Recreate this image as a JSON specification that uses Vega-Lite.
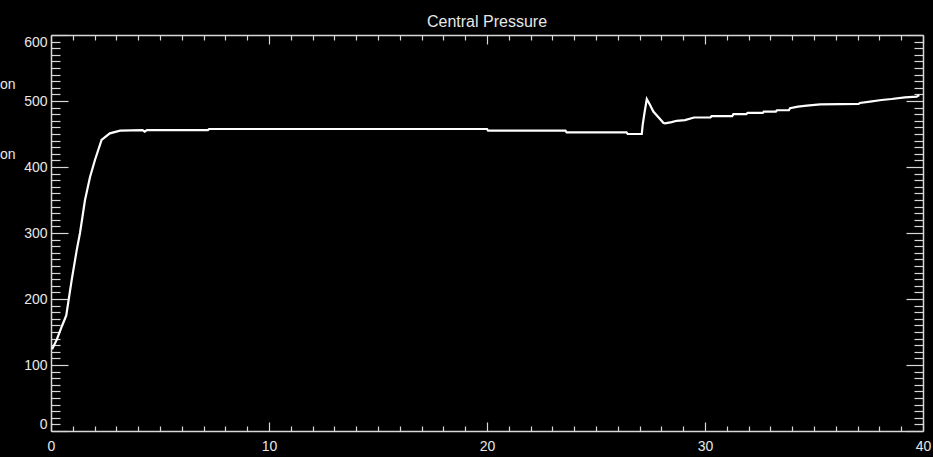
{
  "$schema": "https://vega.github.io/schema/vega-lite/v6.json",
  "width": 872,
  "height": 396,
  "autosize": {"type": "none"},
  "padding": {"left": 51, "top": 35, "right": 10, "bottom": 26},
  "background": "black",
  "config": {
    "view": {"stroke": null},
    "axis": {
      "grid": false,
      "title": null,
      "domainColor": "#d8d8d8",
      "domainWidth": 1.5,
      "tickColor": "#d8d8d8",
      "tickWidth": 1.2,
      "labelColor": "#e8e8e8",
      "labelFont": "Liberation Sans",
      "labelFontSize": 14,
      "labelOverlap": false
    }
  },
  "title": {
    "text": "Central Pressure",
    "color": "#e8e8e8",
    "font": "Liberation Sans",
    "fontSize": 16,
    "fontWeight": "normal",
    "anchor": "middle",
    "baseline": "alphabetic",
    "offset": -9,
    "frame": "group"
  },
  "layer": [
    {
      "data": {
        "values": [
          {"t": 0.05, "p": 124}, {"t": 0.26, "p": 138}, {"t": 0.49, "p": 158}, {"t": 0.7, "p": 175},
          {"t": 0.95, "p": 229}, {"t": 1.18, "p": 274}, {"t": 1.33, "p": 300}, {"t": 1.56, "p": 350},
          {"t": 1.79, "p": 385}, {"t": 2.02, "p": 411}, {"t": 2.32, "p": 441}, {"t": 2.7, "p": 451},
          {"t": 3.17, "p": 455}, {"t": 4.2, "p": 456}, {"t": 4.3, "p": 453.5}, {"t": 4.4, "p": 456},
          {"t": 7.2, "p": 456}, {"t": 7.25, "p": 457.6}, {"t": 20.0, "p": 457.6}, {"t": 20.05, "p": 455},
          {"t": 23.6, "p": 455}, {"t": 23.65, "p": 452.6}, {"t": 26.4, "p": 452.6}, {"t": 26.45, "p": 450},
          {"t": 27.1, "p": 450}, {"t": 27.14, "p": 463.6}, {"t": 27.22, "p": 481}, {"t": 27.33, "p": 503},
          {"t": 27.48, "p": 494}, {"t": 27.63, "p": 484}, {"t": 28.09, "p": 467}, {"t": 28.17, "p": 466},
          {"t": 28.47, "p": 468}, {"t": 28.7, "p": 470}, {"t": 29.08, "p": 471}, {"t": 29.5, "p": 475},
          {"t": 30.25, "p": 475}, {"t": 30.3, "p": 477}, {"t": 31.25, "p": 477}, {"t": 31.3, "p": 480},
          {"t": 31.9, "p": 480}, {"t": 31.95, "p": 482}, {"t": 32.65, "p": 482}, {"t": 32.7, "p": 484},
          {"t": 33.25, "p": 484}, {"t": 33.3, "p": 486}, {"t": 33.85, "p": 486}, {"t": 33.9, "p": 489},
          {"t": 34.27, "p": 491.4}, {"t": 34.67, "p": 493}, {"t": 35.28, "p": 495}, {"t": 37.05, "p": 495.5},
          {"t": 37.1, "p": 497}, {"t": 37.57, "p": 499}, {"t": 38.1, "p": 501.5}, {"t": 38.56, "p": 503},
          {"t": 39.17, "p": 505.6}, {"t": 39.71, "p": 506.5}, {"t": 39.83, "p": 509}
        ]
      },
      "mark": {"type": "line", "color": "white", "strokeWidth": 2.2},
      "encoding": {
        "x": {
          "field": "t", "type": "quantitative",
          "scale": {"domain": [0, 40], "nice": false, "zero": false},
          "axis": {
            "orient": "bottom",
            "values": [0,1,2,3,4,5,6,7,8,9,10,11,12,13,14,15,16,17,18,19,20,21,22,23,24,25,26,27,28,29,30,31,32,33,34,35,36,37,38,39,40],
            "tickSize": {"condition": {"test": "datum.value % 10 === 0", "value": -9}, "value": -5},
            "labelExpr": "datum.value % 10 === 0 ? datum.label : ''",
            "labelPadding": 17,
            "labelFlush": false,
            "labelBaseline": "top"
          }
        },
        "y": {
          "field": "p", "type": "quantitative",
          "scale": {"domain": [0, 600], "nice": false, "zero": false},
          "axis": {
            "orient": "left",
            "values": [0,10,20,30,40,50,60,70,80,90,100,110,120,130,140,150,160,170,180,190,200,210,220,230,240,250,260,270,280,290,300,310,320,330,340,350,360,370,380,390,400,410,420,430,440,450,460,470,480,490,500,510,520,530,540,550,560,570,580,590,600],
            "tickSize": {"condition": {"test": "datum.value % 100 === 0", "value": -17}, "value": -9},
            "labelExpr": "datum.value % 100 === 0 ? datum.label : ''",
            "labelPadding": 21,
            "labelFlush": true
          }
        }
      }
    },
    {
      "data": {"values": [{"t": -2.34, "p": 524, "label": "on"}, {"t": -2.34, "p": 418, "label": "on"}]},
      "mark": {"type": "text", "align": "left", "baseline": "middle", "color": "#e8e8e8", "font": "Liberation Sans", "fontSize": 14},
      "encoding": {
        "x": {
          "field": "t", "type": "quantitative",
          "scale": {"domain": [0, 40], "nice": false, "zero": false},
          "axis": {
            "orient": "top",
            "values": [0,1,2,3,4,5,6,7,8,9,10,11,12,13,14,15,16,17,18,19,20,21,22,23,24,25,26,27,28,29,30,31,32,33,34,35,36,37,38,39,40],
            "tickSize": {"condition": {"test": "datum.value % 10 === 0", "value": -9}, "value": -5},
            "labels": false
          }
        },
        "y": {
          "field": "p", "type": "quantitative",
          "scale": {"domain": [0, 600], "nice": false, "zero": false},
          "axis": {
            "orient": "right",
            "values": [0,10,20,30,40,50,60,70,80,90,100,110,120,130,140,150,160,170,180,190,200,210,220,230,240,250,260,270,280,290,300,310,320,330,340,350,360,370,380,390,400,410,420,430,440,450,460,470,480,490,500,510,520,530,540,550,560,570,580,590,600],
            "tickSize": {"condition": {"test": "datum.value % 100 === 0", "value": -17}, "value": -9},
            "labels": false
          }
        },
        "text": {"field": "label"}
      }
    }
  ],
  "resolve": {"axis": {"x": "independent", "y": "independent"}}
}
